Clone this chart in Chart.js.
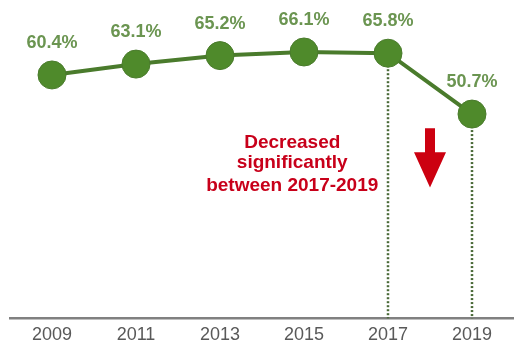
<!DOCTYPE html>
<html>
<head>
<meta charset="utf-8">
<script src="https://cdn.jsdelivr.net/npm/chart.js@4.4.0/dist/chart.umd.min.js"></script>
<style>
  html, body { margin: 0; padding: 0; background: #fff; }
  #wrap { width: 514px; height: 356px; }
</style>
</head>
<body>
<div id="wrap"><canvas id="rateChart"></canvas></div>
<script>
// data
const years = ['2009', '2011', '2013', '2015', '2017', '2019'];
const rates = [60.4, 63.1, 65.2, 66.1, 65.8, 50.7];
const dropLines = ['2017', '2019'];
const noteLines = ['Decreased', 'significantly', 'between 2017-2019'];

// labels, dotted drop lines, note and arrow
const extrasPlugin = {
    id: 'extras',
    beforeDatasetsDraw(chart) {
        const ctx = chart.ctx;
        const meta = chart.getDatasetMeta(0);
        const bottom = chart.chartArea.bottom;
        ctx.save();
        ctx.strokeStyle = '#4a6a38';
        ctx.lineWidth = 2.5;
        ctx.setLineDash([2, 2]);
        dropLines.forEach(function (yr) {
            const pt = meta.data[years.indexOf(yr)];
            ctx.beginPath();
            ctx.moveTo(pt.x, pt.y);
            ctx.lineTo(pt.x, bottom);
            ctx.stroke();
        });
        ctx.restore();
    },
    afterDatasetsDraw(chart) {
        const ctx = chart.ctx;
        const meta = chart.getDatasetMeta(0);
        const xs = chart.scales.x;
        const ys = chart.scales.y;
        ctx.save();
        // value labels
        ctx.font = 'bold 18px "Liberation Sans", Arial, sans-serif';
        ctx.fillStyle = '#6b9551';
        ctx.textAlign = 'center';
        ctx.textBaseline = 'middle';
        meta.data.forEach(function (pt, i) {
            ctx.fillText(rates[i].toFixed(1) + '%', pt.x, pt.y - 32);
        });
        // note
        ctx.font = 'bold 19px "Liberation Sans", Arial, sans-serif';
        ctx.fillStyle = '#c8001a';
        const nx = xs.getPixelForValue(2.86);
        [43.7, 38.5, 33].forEach(function (v, i) {
            ctx.fillText(noteLines[i], nx, ys.getPixelForValue(v));
        });
        // arrow
        const ax = xs.getPixelForValue(4.5);
        const top = ys.getPixelForValue(47.2);
        const neck = ys.getPixelForValue(41.2);
        const tip = ys.getPixelForValue(32.5);
        ctx.fillStyle = '#cc0010';
        ctx.beginPath();
        ctx.moveTo(ax - 5, top);
        ctx.lineTo(ax + 5, top);
        ctx.lineTo(ax + 5, neck);
        ctx.lineTo(ax + 16, neck);
        ctx.lineTo(ax, tip);
        ctx.lineTo(ax - 16, neck);
        ctx.lineTo(ax - 5, neck);
        ctx.closePath();
        ctx.fill();
        ctx.restore();
    }
};

new Chart(document.getElementById('rateChart'), {
    type: 'line',
    data: {
        labels: years,
        datasets: [{
            data: rates,
            borderColor: '#4a7b2c',
            borderWidth: 4,
            pointRadius: 14,
            pointHoverRadius: 14,
            pointBackgroundColor: '#4f8a2b',
            pointBorderColor: '#4a7b2c',
            pointBorderWidth: 1,
            tension: 0
        }]
    },
    options: {
        responsive: true,
        maintainAspectRatio: false,
        animation: false,
        layout: { autoPadding: false, padding: { left: 10, right: 0, top: 0, bottom: 4 } },
        plugins: {
            legend: { display: false },
            tooltip: { enabled: false }
        },
        scales: {
            x: {
                offset: true,
                grid: { display: false, drawTicks: false },
                border: { display: true, color: '#808080', width: 2.5 },
                ticks: {
                    padding: 6,
                    color: '#595959',
                    font: { family: '"Liberation Sans", Arial, sans-serif', size: 18 }
                }
            },
            y: {
                display: false,
                min: 0,
                max: 79
            }
        }
    },
    plugins: [extrasPlugin]
});
</script>
</body>
</html>
